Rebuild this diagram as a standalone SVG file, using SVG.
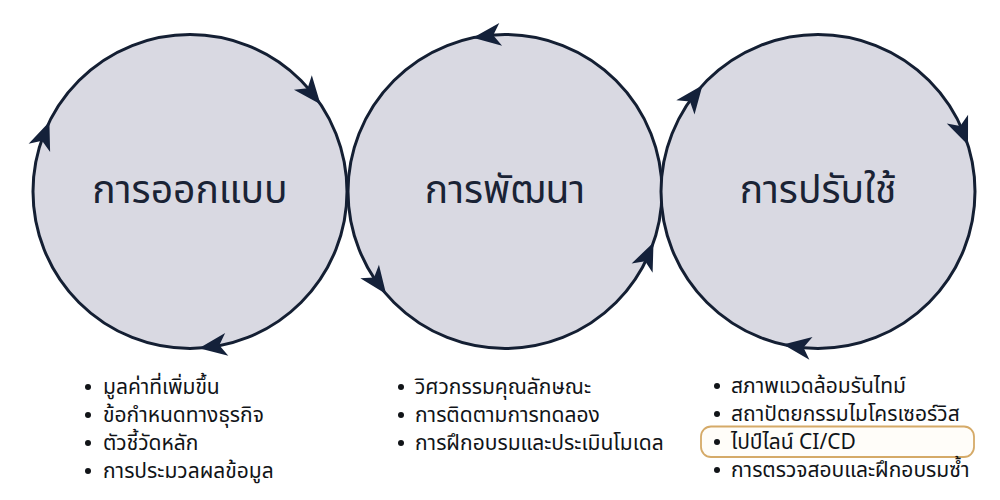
<svg xmlns="http://www.w3.org/2000/svg" xmlns:xlink="http://www.w3.org/1999/xlink" width="1000" height="500" viewBox="0 0 1000 500">
<style>
.circ{fill:#d9d9e2;stroke:#141f33;stroke-width:3}
.title{font-family:"Noto Sans","Noto Sans Thai","Liberation Sans",sans-serif;font-size:39px;fill:#1a2335;text-anchor:middle}
.item{font-family:"Noto Sans","Noto Sans Thai","Liberation Sans",sans-serif;font-size:21px;fill:#111418}
.bul{fill:#111418}
.ah{fill:#14213a}
</style>
<defs>
<path id="ah" d="M0,0 L-28,-11.5 L-20.5,0 L-28,11.5 Z"/>
</defs>
<rect width="1000" height="500" fill="#ffffff"/>
<g id="node-design">
<circle class="circ" cx="190" cy="191.5" r="157"/>
<text class="title" x="190" y="203">การออกแบบ</text>
</g>
<g id="node-develop">
<circle class="circ" cx="505" cy="191.5" r="157"/>
<text class="title" x="505" y="203">การพัฒนา</text>
</g>
<g id="node-deploy">
<circle class="circ" cx="818" cy="191.5" r="157"/>
<text class="title" x="818" y="203">การปรับใช้</text>
</g>
<g id="connectors" class="ah">
<use xlink:href="#ah" href="#ah" transform="translate(320.5,104.2) rotate(51)"/>
<use xlink:href="#ah" href="#ah" transform="translate(49.4,121.7) rotate(291)"/>
<use xlink:href="#ah" href="#ah" transform="translate(199,348.2) rotate(172)"/>
<use xlink:href="#ah" href="#ah" transform="translate(472.9,37.8) rotate(173)"/>
<use xlink:href="#ah" href="#ah" transform="translate(386.1,294.1) rotate(54)"/>
<use xlink:href="#ah" href="#ah" transform="translate(653.5,242.5) rotate(-66)"/>
<use xlink:href="#ah" href="#ah" transform="translate(702.5,85.2) rotate(307.6)"/>
<use xlink:href="#ah" href="#ah" transform="translate(968,145) rotate(67.8)"/>
<use xlink:href="#ah" href="#ah" transform="translate(783.2,344.6) rotate(187.8)"/>
</g>
<g id="list-design">
<circle class="bul" cx="88" cy="387" r="3"/>
<text class="item" x="103" y="394">มูลค่าที่เพิ่มขึ้น</text>
<circle class="bul" cx="88" cy="415" r="3"/>
<text class="item" x="103" y="422">ข้อกำหนดทางธุรกิจ</text>
<circle class="bul" cx="88" cy="443" r="3"/>
<text class="item" x="103" y="450">ตัวชี้วัดหลัก</text>
<circle class="bul" cx="88" cy="471" r="3"/>
<text class="item" x="103" y="478">การประมวลผลข้อมูล</text>
</g>
<g id="list-develop">
<circle class="bul" cx="401" cy="387" r="3"/>
<text class="item" x="415" y="394">วิศวกรรมคุณลักษณะ</text>
<circle class="bul" cx="401" cy="415" r="3"/>
<text class="item" x="415" y="422">การติดตามการทดลอง</text>
<circle class="bul" cx="401" cy="443" r="3"/>
<text class="item" x="415" y="450">การฝึกอบรมและประเมินโมเดล</text>
</g>
<g id="list-deploy">
<rect x="701" y="426.5" width="273" height="30.5" rx="10" fill="#fffdf9" stroke="#d5aa68" stroke-width="1.8"/>
<circle class="bul" cx="717" cy="386" r="3"/>
<text class="item" x="731" y="393">สภาพแวดล้อมรันไทม์</text>
<circle class="bul" cx="717" cy="414" r="3"/>
<text class="item" x="731" y="421">สถาปัตยกรรมไมโครเซอร์วิส</text>
<circle class="bul" cx="717" cy="442" r="3"/>
<text class="item" x="731" y="449">ไปป์ไลน์ CI/CD</text>
<circle class="bul" cx="717" cy="470" r="3"/>
<text class="item" x="731" y="477">การตรวจสอบและฝึกอบรมซ้ำ</text>
</g>
</svg>
